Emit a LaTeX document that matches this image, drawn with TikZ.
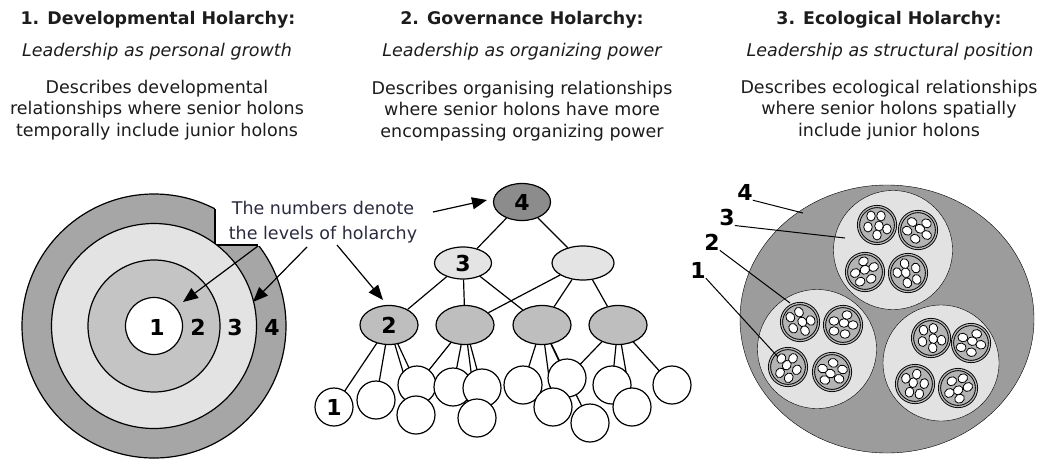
\documentclass[tikz,border=0pt]{standalone}
\usepackage{fontspec}
\setmainfont{DejaVu Sans}
\usetikzlibrary{shapes.geometric,arrows.meta}
\pgfdeclarelayer{bg}
\pgfsetlayers{bg,main}
\definecolor{txt}{HTML}{1C1C1C}
\definecolor{annot}{HTML}{2B2B40}
\definecolor{ringfour}{HTML}{A6A6A6}
\definecolor{ringthree}{HTML}{E3E3E3}
\definecolor{ringtwo}{HTML}{C4C4C4}
\definecolor{govfour}{HTML}{8C8C8C}
\definecolor{govthree}{HTML}{E4E4E4}
\definecolor{govtwo}{HTML}{BEBEBE}
\definecolor{ecofour}{HTML}{9C9C9C}
\definecolor{ecothree}{HTML}{E2E2E2}
\definecolor{ecotwo}{HTML}{B4B4B4}
\begin{document}
\begin{tikzpicture}[x=1pt,y=-1pt,line width=1.2pt,
  ttl/.style={font=\fontsize{17.4}{20}\selectfont\bfseries,text=txt},
  itl/.style={font=\fontsize{17.5}{20}\selectfont\itshape,text=txt},
  body/.style={font=\fontsize{17.5}{21.7}\selectfont,align=center,text=txt},
  num/.style={font=\fontsize{22}{22}\selectfont\bfseries,inner sep=0pt},
  ring/.style={circle,draw,inner sep=0pt},
  hol/.style={ellipse,draw,inner sep=0pt,minimum width=58pt,minimum height=39pt,fill=govtwo},
  leaf/.style={circle,draw,fill=white,minimum size=38pt,inner sep=0pt},
  arr/.style={-{Triangle[length=15pt,width=12pt]},line width=1.2pt},
  small/.style={circle,draw,line width=0.9pt,double=ecotwo,double distance=1.3pt,fill=ecotwo,minimum size=37pt,inner sep=0pt},
  lead/.style={line width=1pt},
  edge/.style={draw,line width=1.2pt}
]
\useasboundingbox (0,0) rectangle (1048,458);

% ---------- headings ----------
\node[ttl] (t1) at (158,20) {1. Developmental Holarchy:};
\node[itl] (i1) at (157,52) {Leadership as personal growth};
\node[body] (b1) at (157,110) {Describes developmental\\relationships where senior holons\\temporally include junior holons};
\node[ttl] (t2) at (522,20) {2. Governance Holarchy:};
\node[itl] (i2) at (522,52) {Leadership as organizing power};
\node[body] (b2) at (522,111) {Describes organising relationships\\where senior holons have more\\encompassing organizing power};
\node[ttl] (t3) at (889,20) {3. Ecological Holarchy:};
\node[itl] (i3) at (890,52) {Leadership as structural position};
\node[body] (b3) at (889,110) {Describes ecological relationships\\where senior holons spatially\\include junior holons};

% ---------- developmental rings ----------
\node[ring,fill=ringfour,minimum size=264pt] (r4) at (154,326) {};
\begin{scope}
  \clip (215,150) rectangle (330,245);
  \fill[white] (154,326) circle[radius=137pt];
\end{scope}
\draw (215,209) -- (215,245) -- (258,245);
\node[ring,fill=ringthree,minimum size=205pt] (r3) at (154,326) {};
\node[ring,fill=ringtwo,minimum size=132pt] (r2) at (154,326) {};
\node[ring,fill=white,minimum size=57pt] (r1) at (154,326) {};
\node[num] (n1) at (157,327) {1};
\node[num] (n2) at (198,327) {2};
\node[num] (n3) at (235,327) {3};
\node[num] (n4) at (272,327) {4};

% ---------- annotation ----------
\node[body,text=annot,font=\fontsize{17.5}{24.5}\selectfont] (note) at (323,222) {The numbers denote\\the levels of holarchy};
\coordinate (sB) at (258,246);
\coordinate (tB) at (183,302);
\coordinate (sA) at (307,247);
\coordinate (tA) at (253,302);
\coordinate (sC) at (337,245);
\coordinate (tC) at (383,300);
\coordinate (sD) at (433,212);
\coordinate (tD) at (487,200);
\draw[arr] (sB) -- (tB);
\draw[arr] (sA) -- (tA);
\draw[arr] (sC) -- (tC);
\draw[arr] (sD) -- (tD);

% ---------- governance holarchy ----------
\node[hol,fill=govfour,minimum width=57pt,minimum height=37pt] (g4) at (522,202) {};
\node[num] at (g4) {4};
\node[hol,fill=govthree,minimum width=57pt,minimum height=32pt] (g3) at (463,263) {};
\node[num] at (g3) {3};
\node[hol,fill=govthree,minimum width=62pt,minimum height=34pt] (g3b) at (583,263) {};
\node[hol] (g2a) at (389,325) {};
\node[num] at (g2a) {2};
\node[hol] (g2b) at (465,325) {};
\node[hol] (g2c) at (542,325) {};
\node[hol] (g2d) at (618,325) {};

\node[leaf] (l1) at (334,407) {};
\node[num] at (l1) {1};
\node[leaf] (lb) at (376,400) {};
\node[leaf] (lc) at (417,385) {};
\node[leaf] (ld) at (416,415) {};
\node[leaf] (le) at (453,387) {};
\node[leaf] (lf) at (482,388) {};
\node[leaf] (lg) at (477,418) {};
\node[leaf] (lh) at (523,385) {};
\node[leaf] (li) at (567,378) {};
\node[leaf] (lj) at (553,407) {};
\node[leaf] (lk) at (590,423) {};
\node[leaf] (ll) at (612,385) {};
\node[leaf] (lm) at (632,407) {};
\node[leaf] (ln) at (672,385) {};

\begin{pgfonlayer}{bg}
  \path[edge] (g4) -- (g3);
  \path[edge] (g4) -- (g3b);
  \path[edge] (g3) -- (g2a);
  \path[edge] (g3) -- (g2b);
  \path[edge] (g3) -- (g2c);
  \path[edge] (g3b) -- (g2b);
  \path[edge] (g3b) -- (g2c);
  \path[edge] (g3b) -- (g2d);
  \foreach \a/\b in {g2a/l1,g2a/lb,g2a/lc,g2a/ld,
                     g2b/lc,g2b/le,g2b/lf,g2b/lg,
                     g2c/lh,g2c/lj,g2c/li,g2c/lk,
                     g2d/li,g2d/ll,g2d/lm,g2d/ln}
    \path[edge] (\a.center) -- (\b.center);
\end{pgfonlayer}

% ---------- ecological holarchy ----------
\node[ellipse,draw,fill=ecofour,minimum width=294pt,minimum height=268pt,inner sep=0pt] (e4) at (887,319) {};
\node[ring,fill=ecothree,minimum size=119pt] (e3a) at (893,250) {};
\node[ring,fill=ecothree,minimum size=119pt] (e3b) at (817,349) {};
\node[ring,fill=ecothree,minimum size=116pt] (e3c) at (941,363) {};
\foreach \n/\x/\y/\r in {s1/877/225/0, s2/918/230/60, s3/865/272/120, s4/908/273/200,
                        s5/800/322/30, s6/843/325/90, s7/788/367/150, s8/832/372/250,
                        s9/931/338/10, s10/971/343/80, s11/915/384/170, s12/958/388/300}{
  \node[small] (\n) at (\x,\y) {};
  \begin{scope}[shift={(\x,\y)},rotate=\r]
    \foreach \dx/\dy in {-6/-9, 4/-9, -9/2, 2/1, 10/4, 0/10}
      \draw[fill=white,line width=0.8pt] (\dx,\dy) ellipse[x radius=4.3pt,y radius=5pt];
  \end{scope}
}
\node[num] (k4) at (745,192) {4};
\node[num] (k3) at (727,217) {3};
\node[num] (k2) at (712,242) {2};
\node[num] (k1) at (698,270) {1};
\coordinate (p4) at (803,213);
\coordinate (p3) at (845,238);
\coordinate (p2) at (790,303);
\coordinate (p1) at (778,357);
\draw[lead] (k4.south east) -- (p4);
\draw[lead] (k3.south east) -- (p3);
\draw[lead] (k2.south east) -- (p2);
\draw[lead] (k1.south east) -- (p1);
\end{tikzpicture}
\end{document}
